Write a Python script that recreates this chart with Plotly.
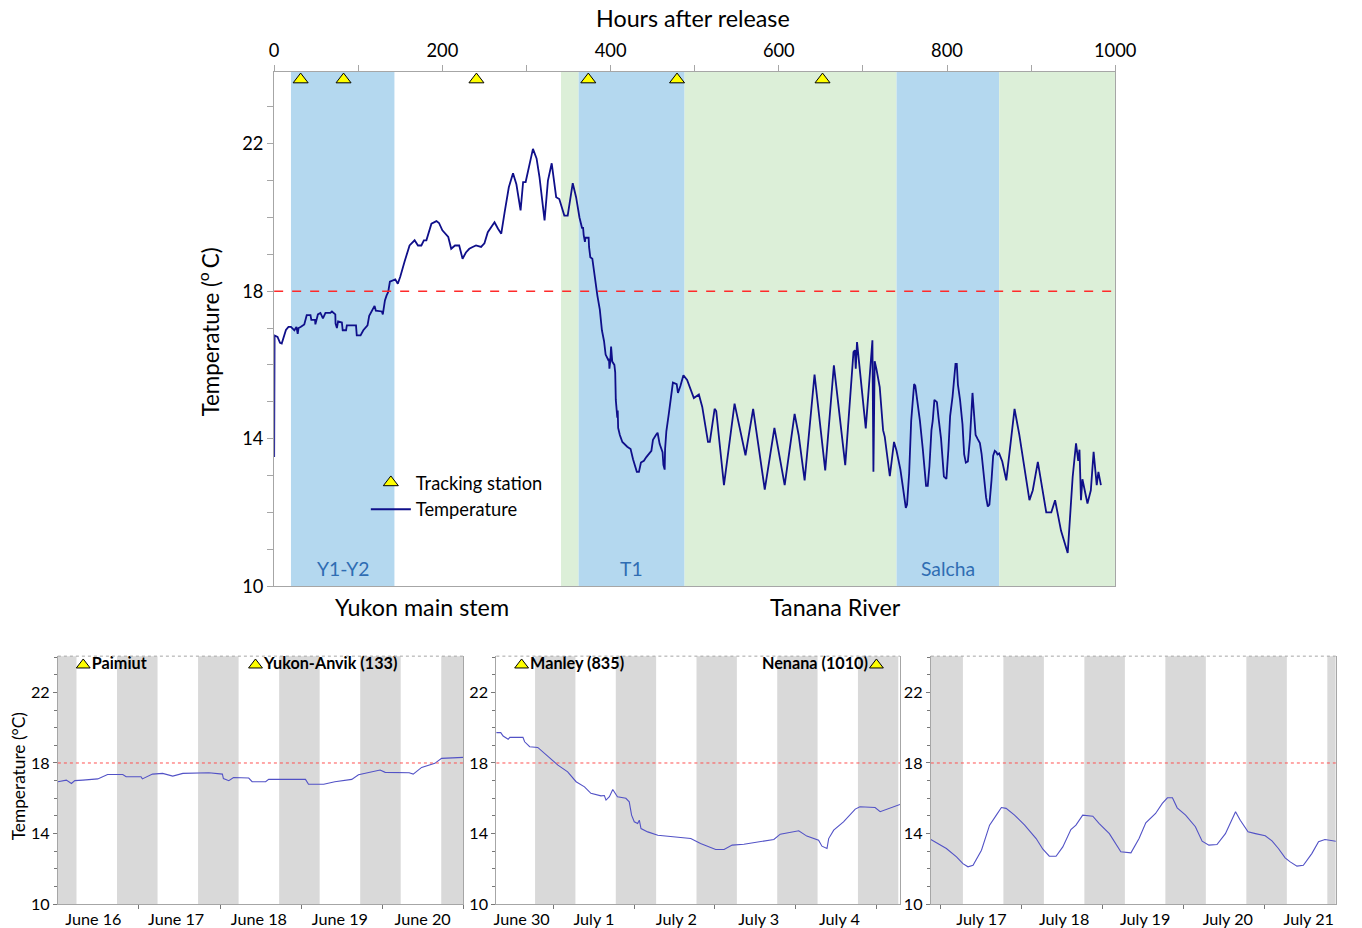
import plotly.graph_objects as go

W, H = 1362, 928
FONT = "Lato"

# ---------------- data ----------------
hours = [0, 0.5, 4, 7, 9, 11, 14, 17, 20,
         24, 26.5, 28, 29, 31.4, 35.8, 38.7, 43.2, 44.2, 48.6, 49, 52, 55, 58, 61, 66.8, 68.7,
         72.7, 73, 74.6, 76, 80.5, 81.5, 85.5, 86.4, 97.3, 98.2, 102.7, 106, 111, 113, 119.4,
         120.9, 128, 129.2, 131.7, 133.6, 135.6, 137.6, 144,
         147, 150, 155, 161, 167, 171, 175, 178, 181, 187, 193, 196, 200, 207, 210.5, 215, 220,
         224, 228, 232, 236, 240, 246, 250, 254, 258, 262, 266, 270, 274, 279, 284, 288, 293,
         296, 299, 303, 307.7, 312, 315.5, 321.5, 325.5, 330, 335.3, 339, 345, 349, 355, 359, 363,
         366, 367.3, 368, 369.5, 370, 372.4, 373.9, 374.4, 375.9, 378.3, 381.3, 384.3, 387.2,
         389.7, 392.2, 394.1, 397.1, 398.1, 398.6, 399.6, 400.6, 402, 404.5, 405.5, 406.2, 407,
         408, 408.5, 409, 411, 414, 419.8, 423.8, 426.7, 429.7, 431.2, 433.7, 436.1, 439.6,
         442.5, 448.5, 450.4, 453.9, 455.9, 458.3, 461.8, 462.8, 464.3, 464.8, 466.3, 469.2,
         472.7, 474.1, 478.6, 480.1, 483, 485, 486,
         486.6, 491, 495, 499, 505, 509, 515.8, 518, 523.7, 525.6, 534.8, 547.4, 560.4, 569.5,
         583.3, 589, 594.8, 607, 618.8, 623.6, 630.7, 642.5, 655.2, 665.5, 679, 688.8, 690.4,
         691.5, 693, 703.4, 711.3, 712.5, 714, 716, 720, 724, 726, 732, 737,
         740, 741.7, 744.6, 747.6, 749.5, 751, 752.5, 755, 757.4, 759.4, 760.9, 762.3, 764.8,
         767.8, 771.2, 773.2, 775.1, 777.1, 779.1, 781.5, 783, 785, 788, 789.9, 792.9, 796.3,
         799.3, 801.7, 803.7, 806.6, 808.6, 810.1, 811.6, 813, 815.5, 818.4, 820.4, 822.4,
         824.8, 827.3, 830.3, 831.7, 834, 836.2, 839.1, 841.1, 843, 845, 846.5, 848.5, 850.4,
         852.9, 854.9, 856.8, 858.8, 860,
         862, 865.7, 870.5, 880.3, 886, 898, 902, 908, 918, 924, 928.5, 935.6, 943.5, 949.4,
         953.4, 956, 957.5, 959.3, 961, 967, 971, 974.3, 978, 980, 983]

temps = [13.5, 16.8, 16.76, 16.6, 16.58, 16.75, 16.95, 17.03, 17.03,
         16.94, 17.03, 16.84, 17.0, 17.03, 17.1, 17.35, 17.35, 17.22, 17.22, 17.1, 17.37, 17.41,
         17.26, 17.41, 17.41, 17.45, 17.37, 17.12, 17.0, 17.18, 17.15, 16.94, 16.94, 17.07,
         17.07, 16.8, 16.8, 16.94, 17.07, 17.33, 17.6, 17.47, 17.45, 17.37, 17.75, 17.88, 17.98,
         18.26, 18.32,
         18.2, 18.4, 18.8, 19.24, 19.38, 19.24, 19.24, 19.38, 19.38, 19.83, 19.9, 19.85, 19.65,
         19.47, 19.15, 19.24, 19.24, 18.88, 19.05, 19.15, 19.2, 19.24, 19.2, 19.3, 19.6, 19.75,
         19.87, 19.7, 19.56, 20.14, 20.82, 21.2, 20.9, 20.19, 20.96, 20.96, 21.4, 21.86, 21.6,
         21.09, 19.92, 21.0, 21.47, 20.55, 20.5, 20.05, 20.05, 20.93, 20.55, 20.0,
         19.72, 19.72, 19.53, 19.34, 19.45, 19.45, 19.45, 19.2, 18.92, 18.88, 18.36, 17.88,
         17.5, 16.94, 16.65, 16.28, 16.14, 16.16, 15.9, 16.09, 16.5, 16.09, 16.0, 15.8, 15.05,
         14.67, 14.57, 14.76, 14.29, 14.1, 13.91, 13.78, 13.72, 13.44, 13.21, 13.1, 13.1, 13.35,
         13.4, 13.5, 13.67, 13.97, 14.1, 14.16, 13.86, 13.63, 13.29, 13.16, 13.72, 14.2, 14.67,
         15.39, 15.52, 15.48, 15.24, 15.43, 15.6, 15.65,
         15.72, 15.59, 15.32, 15.1, 15.2, 14.86, 13.91, 13.91, 14.81, 14.75, 12.74, 14.95,
         13.55, 14.81, 12.62, 13.4, 14.29, 12.74, 14.67, 14.1, 12.87, 15.74, 13.14, 15.99,
         13.28, 16.35, 16.4, 15.9, 16.62, 14.28, 16.67, 13.1, 16.1, 15.9, 15.4, 14.23, 14.05,
         12.98, 13.91,
         13.67, 13.48, 13.16, 12.68, 12.3, 12.12, 12.21, 13.06, 14.48, 15.05, 15.48, 15.43,
         15.05, 14.48, 13.72, 13.12, 12.72, 12.72, 13.25, 14.23, 14.48, 15.05, 14.99, 14.57,
         14.0, 12.97, 12.91, 13.72, 14.61, 15.14, 15.71, 16.03, 16.03, 15.46, 15.05, 14.39,
         13.57, 13.35, 13.38, 14.0, 15.24, 14.76, 14.1, 14.0, 13.88, 13.59, 13.16, 12.63, 12.4,
         12.16, 12.21, 12.87, 13.54, 13.67, 13.63, 13.57,
         13.6, 13.38, 12.87, 14.81, 14.1, 12.33, 12.6, 13.37, 12.0, 12.0, 12.33, 11.5, 10.9,
         12.96, 13.87, 13.4, 13.7, 12.33, 12.9, 12.24, 12.6, 13.64, 12.74, 13.1, 12.74]

station_hours = [31.5, 82.5, 240.5, 373.5, 479, 652]
station_level = 23.74

zone_starts = [20, 341, 362, 488, 740, 862]
zone_ends = [143, 362, 488, 740, 862, 1000]
zone_kinds = ["blue", "green", "blue", "green", "blue", "green"]
zone_labels = ["Y1-Y2", "", "T1", "", "Salcha", ""]

threshold = 18

panel_ranges = [(24, 144), (366, 486), (740, 860)]
panel_top_ticks = [[24, 48, 72, 96, 120, 144],
                   [366, 390, 414, 438, 462, 486],
                   [740, 764, 788, 812, 836, 860]]
panel_dates = [["June 16", "June 17", "June 18", "June 19", "June 20"],
               ["June 30", "July 1", "July 2", "July 3", "July 4"],
               ["July 17", "July 18", "July 19", "July 20", "July 21"]]
panel_date_pos = [[34.5, 59, 83.5, 107.5, 132],
                  [373.5, 395, 419.5, 444, 468],
                  [755, 779.5, 803.5, 828, 852]]
panel_day_ticks = [[48, 72, 96, 120, 144],
                   [383, 407, 431, 455, 479],
                   [743, 767, 791, 815, 839]]
panel_stations = [[(31.5, "Paimiut", "right"), (82.5, "Yukon-Anvik (133)", "right")],
                  [(373.5, "Manley (835)", "right"), (479, "Nenana (1010)", "left")],
                  []]
night_start = 17.5
night_len = 12
panel_station_level = 23.55

# ---------------- style ----------------
BLUE = "#b4d8ef"
GREEN = "#dcefd8"
NAVY = "#0f0f8a"
GREY = "#a6a6a6"
NIGHT = "#d9d9d9"
LINE2 = "#5252c6"

# the rendered page comes out slightly shrunk; pre-compensate positions
SX, OX = 0.9836, 1.9
SY, OY = 0.9887, 0.2
FS = 1.015  # font compensation


def px_x(p):
    return ((p - OX) / SX) / W


def px_y(p):
    return 1 - ((p - OY) / SY) / H


def fs(v):
    return round(v * FS, 1)


fig = go.Figure()

# top chart
fig.add_trace(go.Scatter(x=hours, y=temps, mode="lines", name="Temperature",
                         line=dict(color=NAVY, width=1.8), xaxis="x", yaxis="y",
                         legendrank=2))
fig.add_trace(go.Scatter(x=station_hours, y=[station_level] * len(station_hours),
                         mode="markers", name="Tracking station",
                         marker=dict(symbol="triangle-up", size=13, color="#ffff00",
                                     line=dict(color="black", width=1)),
                         xaxis="x", yaxis="y", legendrank=1, cliponaxis=False))

shapes = []
annotations = []
for s, e, k, lab in zip(zone_starts, zone_ends, zone_kinds, zone_labels):
    shapes.append(dict(type="rect", xref="x", yref="y domain", x0=s, x1=e, y0=0, y1=1,
                       fillcolor=BLUE if k == "blue" else GREEN, line=dict(width=0),
                       layer="below"))
    if lab:
        annotations.append(dict(x=(s + e) / 2, y=10.47, xref="x", yref="y", text=lab,
                                xanchor="center", yanchor="middle",
                                showarrow=False, font=dict(size=fs(19), color="#2f6db3",
                                                           family=FONT)))
shapes.append(dict(type="line", xref="x domain", yref="y", x0=0, x1=1, y0=threshold,
                   y1=threshold, line=dict(color="#ff2a2a", width=1.6, dash="dash")))

# bottom panels
xdoms = [(55, 461.7), (495, 900), (931, 1337.3)]
ydom = [px_y(904), px_y(656)]
for i, ((lo, hi), (xa, xb)) in enumerate(zip(panel_ranges, xdoms)):
    xb_name = "x%d" % (2 + 2 * i)
    y_name = "y%d" % (2 + i)
    k0 = int((lo - night_start) // 24) - 1
    for k in range(k0, k0 + 8):
        a = night_start + 24 * k
        b = a + night_len
        a2, b2 = max(a, lo), min(b, hi)
        if b2 > a2:
            shapes.append(dict(type="rect", xref=xb_name, yref=y_name + " domain",
                               x0=a2, x1=b2, y0=0, y1=1, fillcolor=NIGHT,
                               line=dict(width=0), layer="below"))
    shapes.append(dict(type="line", xref=xb_name + " domain", yref=y_name, x0=0, x1=1,
                       y0=threshold, y1=threshold,
                       line=dict(color="#ff5050", width=1, dash="dot")))
    shapes.append(dict(type="line", xref=xb_name + " domain", yref=y_name + " domain",
                       x0=0, x1=1, y0=1, y1=1, line=dict(color=GREY, width=1, dash="dot")))
    fig.add_trace(go.Scatter(x=hours, y=temps, mode="lines", showlegend=False,
                             line=dict(color=LINE2, width=1.1), xaxis=xb_name,
                             yaxis=y_name))
    for (sh, name, side) in panel_stations[i]:
        fig.add_trace(go.Scatter(x=[sh], y=[panel_station_level], mode="markers+text",
                                 text=["<b>%s</b>" % name],
                                 textposition="middle right" if side == "right" else "middle left",
                                 textfont=dict(size=fs(16), color="black", family=FONT),
                                 marker=dict(symbol="triangle-up", size=12, color="#ffff00",
                                             line=dict(color="black", width=1)),
                                 showlegend=False, xaxis=xb_name, yaxis=y_name,
                                 cliponaxis=False))

layout = dict(
    width=W, height=H, autosize=False,
    margin=dict(l=0, r=0, t=0, b=0, pad=0),
    paper_bgcolor="white", plot_bgcolor="white",
    font=dict(family=FONT, size=fs(18), color="black"),
    showlegend=True,
    legend=dict(x=px_x(364), y=px_y(464), xanchor="left", yanchor="top",
                bgcolor="rgba(0,0,0,0)", font=dict(size=fs(18), family=FONT),
                tracegroupgap=0, itemwidth=40),
    xaxis=dict(domain=[px_x(272), px_x(1116)], range=[0, 1000], side="top", anchor="y",
               tickvals=[0, 200, 400, 600, 800, 1000], ticks="outside", ticklen=6,
               tickcolor=GREY, showline=True, linecolor=GREY, linewidth=1.3, mirror=True,
               showgrid=False, zeroline=False, tickfont=dict(size=fs(18)),
               minor=dict(tickvals=[100, 300, 500, 700, 900], ticks="outside", ticklen=6,
                          tickcolor=GREY, showgrid=False)),
    yaxis=dict(domain=[px_y(586), px_y(72)], range=[10, 23.95], anchor="x",
               tickvals=[10, 14, 18, 22], ticks="outside", ticklen=6, tickcolor=GREY,
               showline=True, linecolor=GREY, linewidth=1.3, mirror=True, showgrid=False,
               zeroline=False, tickfont=dict(size=fs(18)),
               minor=dict(dtick=1, tick0=10, ticks="outside", ticklen=6, tickcolor=GREY,
                          showgrid=False)),
)

for i, ((lo, hi), (xa, xb)) in enumerate(zip(panel_ranges, xdoms)):
    nb = 2 + 2 * i
    nt = 3 + 2 * i
    ny = 2 + i
    layout["xaxis%d" % nb] = dict(
        domain=[px_x(xa), px_x(xb)], range=[lo, hi], anchor="y%d" % ny, side="bottom",
        tickvals=panel_date_pos[i], ticktext=panel_dates[i], ticks="", showline=True,
        linecolor=GREY, linewidth=1, showgrid=False, zeroline=False,
        tickfont=dict(size=fs(16)),
        minor=dict(tickvals=panel_day_ticks[i], ticks="outside", ticklen=4,
                   tickcolor="#777777", showgrid=False))
    layout["xaxis%d" % nt] = dict(
        range=[lo, hi], overlaying="x%d" % nb, anchor="y%d" % ny, side="top",
        tickvals=panel_top_ticks[i], ticks="outside", ticklen=4, tickcolor="#777777",
        showline=False, showgrid=False, zeroline=False, tickfont=dict(size=fs(16)))
    layout["yaxis%d" % ny] = dict(
        domain=ydom, range=[10, 24.05], anchor="x%d" % nb, tickvals=[10, 14, 18, 22],
        ticks="outside", ticklen=4, tickcolor="#777777", showline=True, linecolor=GREY,
        linewidth=1, mirror=True, showgrid=False, zeroline=False,
        tickfont=dict(size=fs(16)),
        minor=dict(dtick=1, tick0=10, ticks="outside", ticklen=3, tickcolor="#777777",
                   showgrid=False))


def label(x, y, text, size, angle=0):
    return dict(x=px_x(x), y=px_y(y), xref="paper", yref="paper", text=text,
                xanchor="center", yanchor="middle", textangle=angle, showarrow=False,
                font=dict(size=fs(size), family=FONT, color="black"))


annotations += [
    label(692, 18, "Hours after release", 23),
    label(207, 332, "Temperature (<sup>o </sup>C)", 22, -90),
    label(420, 607, "Yukon main stem", 23),
    label(835, 607, "Tanana River", 23),
    label(15, 776, "Temperature (°C)", 17, -90),
]
layout["shapes"] = shapes
layout["annotations"] = annotations
fig.update_layout(**layout)

fig.write_html("out.html")
